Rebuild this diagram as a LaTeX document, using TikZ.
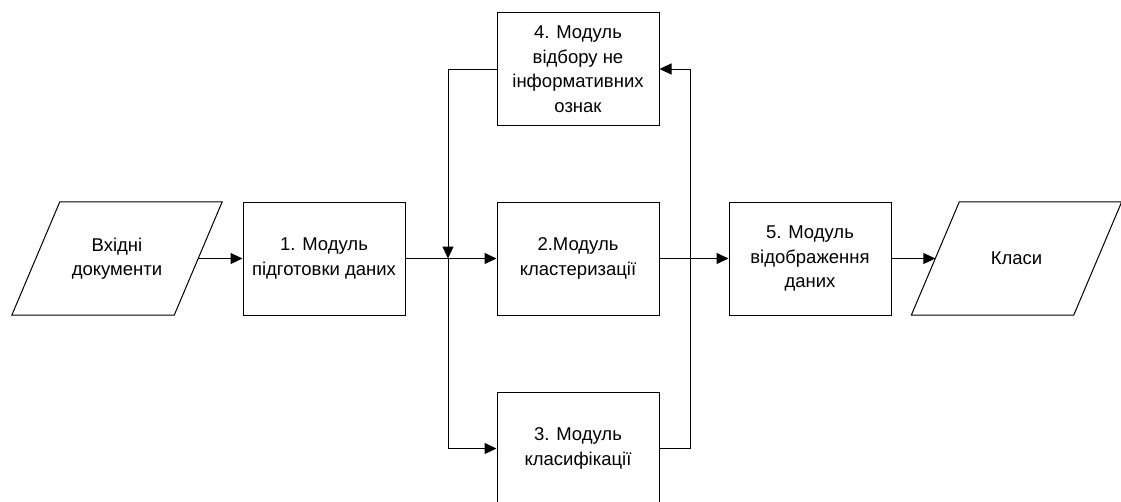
\documentclass[tikz,border=0pt]{standalone}
\usepackage{fontspec}
\setmainfont{Liberation Sans}
\usetikzlibrary{arrows.meta}
\begin{document}
\begin{tikzpicture}[x=1pt,y=-1pt,
  every node/.style={font=\fontsize{18.5}{24.5}\selectfont, align=center, inner sep=0pt},
  modbox/.style={draw, line width=1pt, minimum width=162pt, minimum height=113pt},
  iobox/.style={minimum width=162pt, minimum height=113pt},
  link/.style={line width=1pt, -{Triangle[length=12pt,width=11pt]}},
  outline/.style={line width=1pt}]
\clip (0,0) rectangle (1121,501);
\node[iobox] (in) at (117,258.5) {Вхідні\\документи};
\node[modbox] (b1) at (324,258.5) {1. Модуль\\підготовки даних};
\node[modbox] (b2) at (578,258.5) {2.Модуль\\кластеризації};
\node[modbox] (b3) at (578,448.5) {3. Модуль\\класифікації};
\node[modbox] (b4) at (578,69) {4. Модуль\\відбору не\\інформативних\\ознак};
\node[modbox] (b5) at (810,258.5) {5. Модуль\\відображення\\даних};
\node[iobox] (out) at (1016.5,258.5) {Класи};
\draw[outline] ([xshift=-24pt]in.south west) -- ([xshift=24pt]in.north west)
  -- ([xshift=24pt]in.north east) -- ([xshift=-24pt]in.south east) -- cycle;
\draw[outline] ([xshift=-24pt]out.south west) -- ([xshift=24pt]out.north west)
  -- ([xshift=24pt]out.north east) -- ([xshift=-24pt]out.south east) -- cycle;
\coordinate (j) at (448,258.5);
\coordinate (r) at (690,258.5);
\draw[link] (in.east) -- (b1.west);
\draw[link] (b1) -- (b2);
\draw[link] (b4.west) -| (j);
\draw[link] (j) |- (b3.west);
\draw[link] (b3.east) -| (r) |- (b4.east);
\draw[link] (b2) -- (b5);
\draw[link] (b5.east) -- (out.west);
\end{tikzpicture}
\end{document}
